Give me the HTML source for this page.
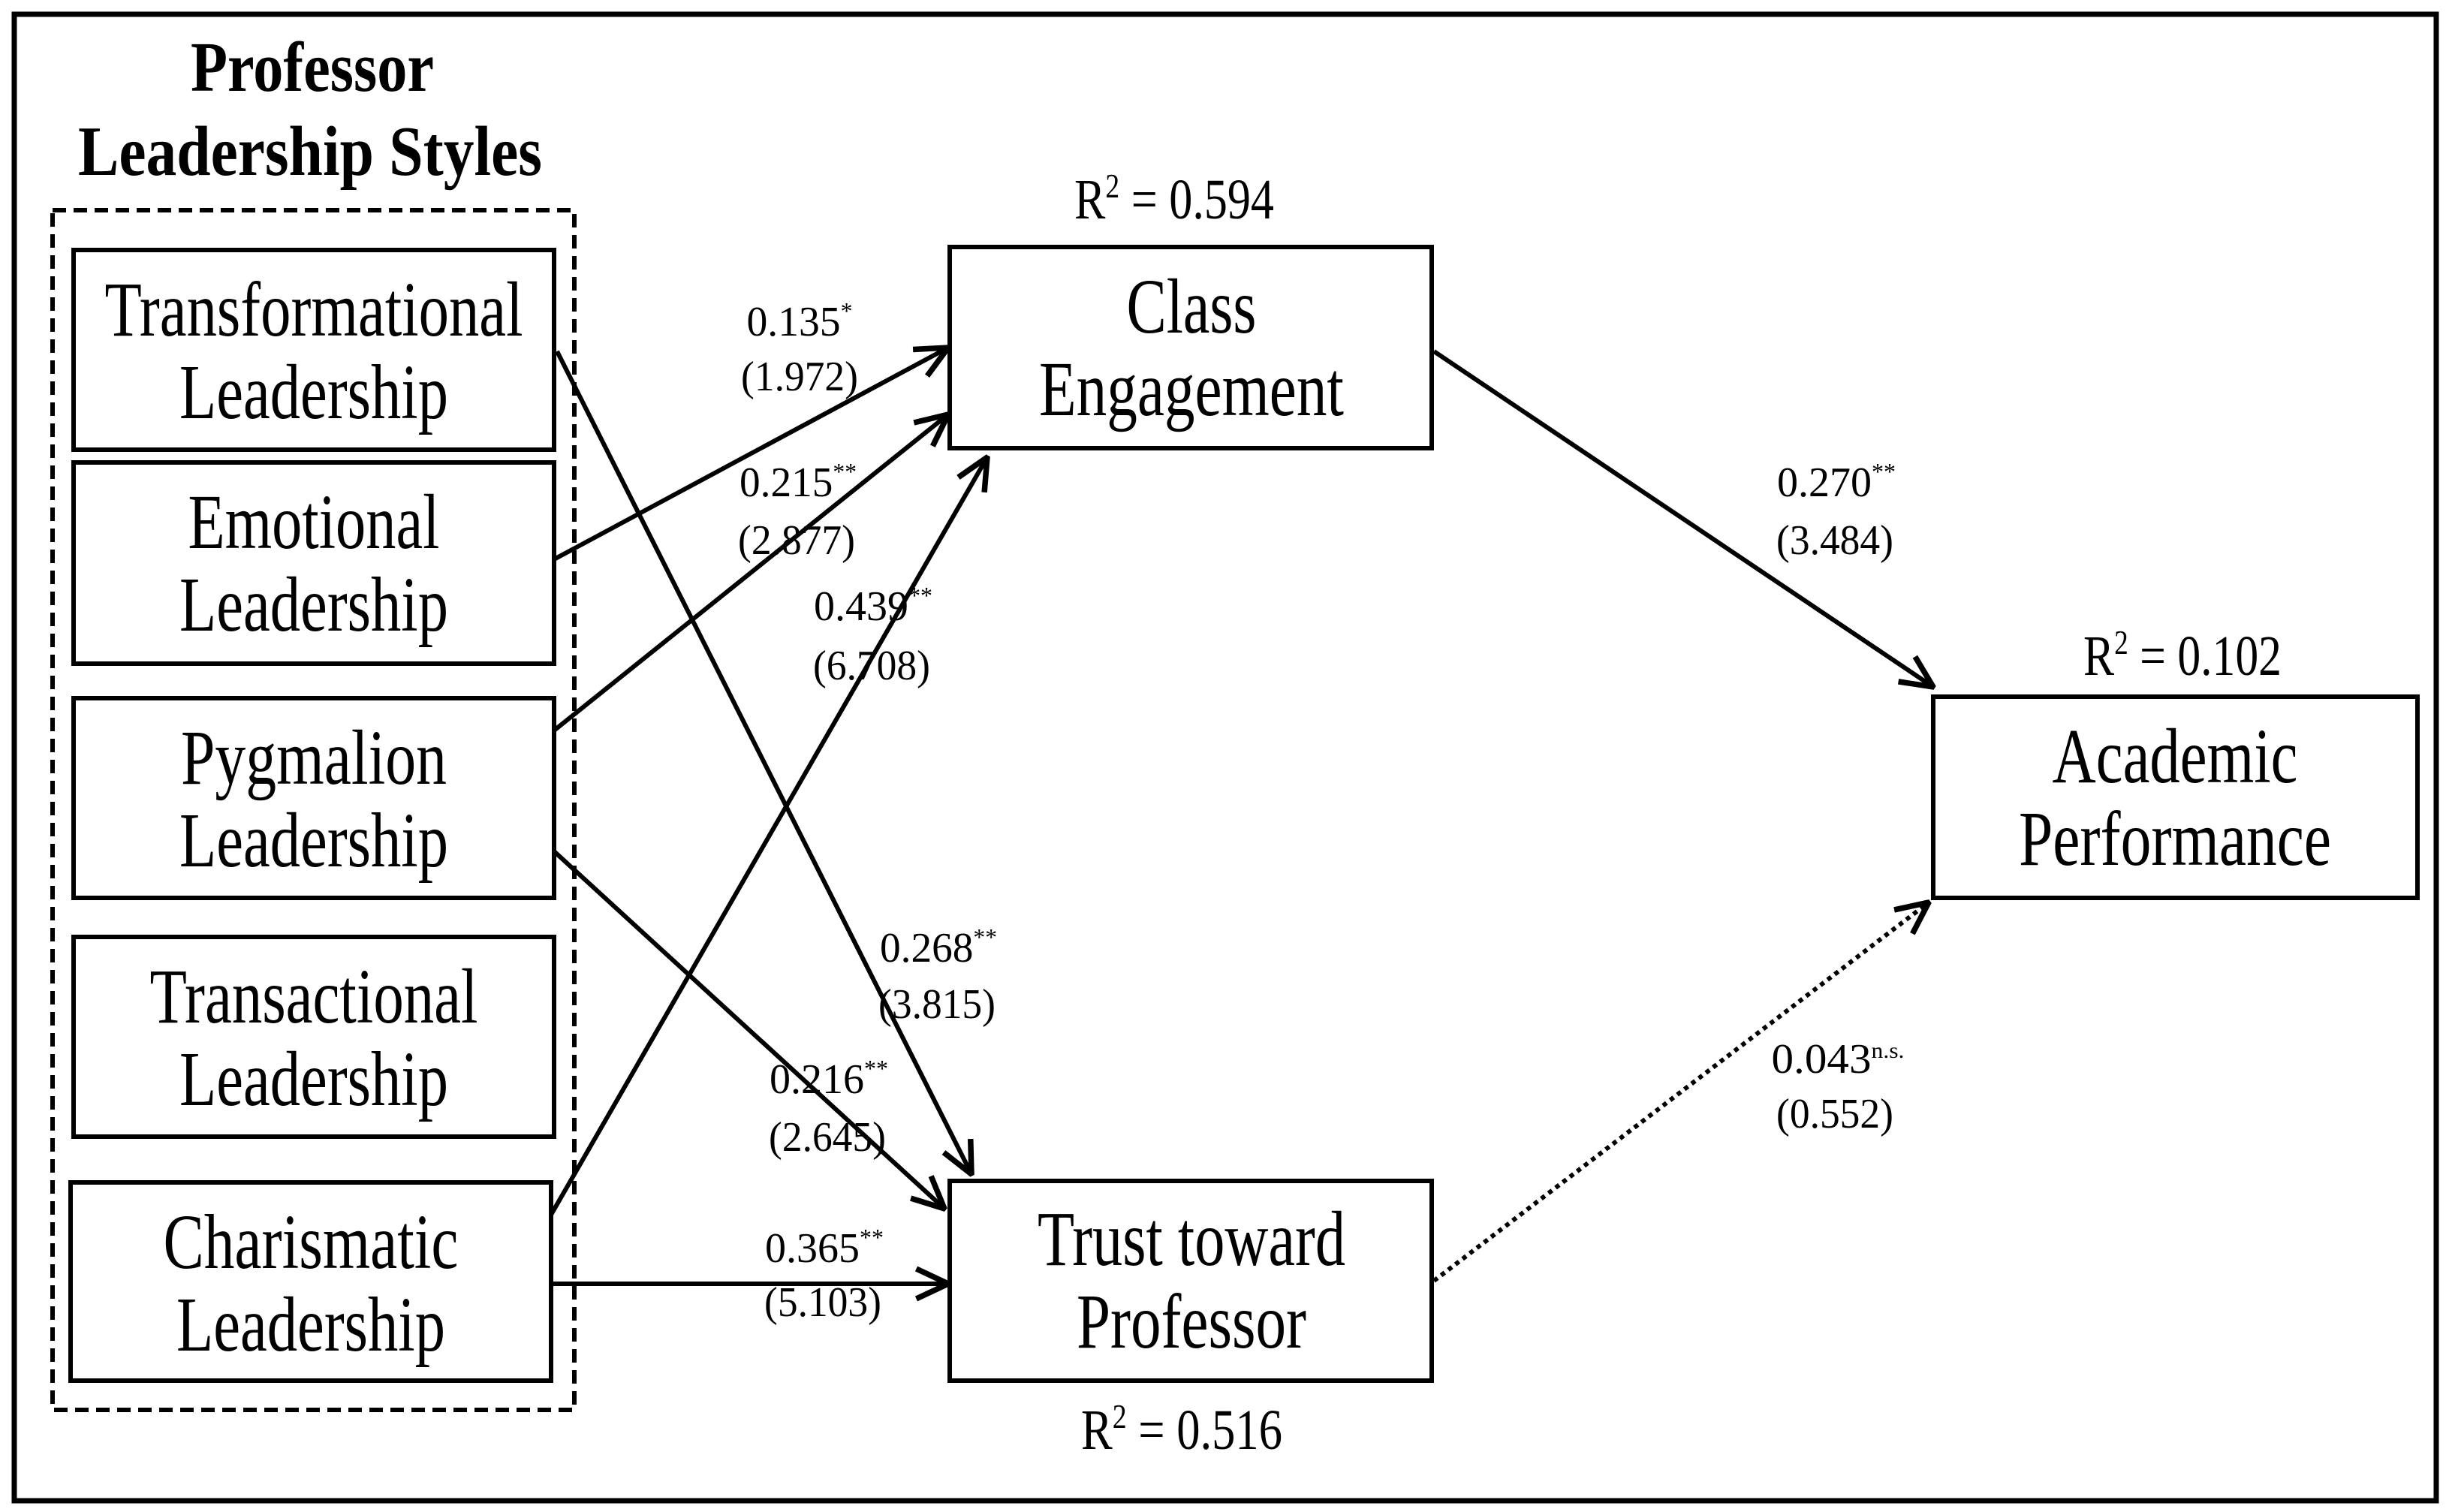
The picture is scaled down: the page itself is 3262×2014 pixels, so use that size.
<!DOCTYPE html>
<html><head><meta charset="utf-8"><style>
html,body{margin:0;padding:0;background:#fff;}
svg{display:block;}
text{font-family:"Liberation Serif",serif;fill:#000;}
</style></head><body>
<svg width="3262" height="2014" viewBox="0 0 3262 2014" xmlns="http://www.w3.org/2000/svg">
<defs>
<marker id="ah" markerUnits="userSpaceOnUse" markerWidth="50" markerHeight="50" viewBox="0 0 40 40" refX="38" refY="20" orient="auto">
<path d="M4,4 L38,20 L4,36" fill="none" stroke="#000" stroke-width="6"/>
</marker>
</defs>
<rect x="0" y="0" width="3262" height="2014" fill="#fff"/>
<rect x="19" y="19" width="3226" height="1980" fill="none" stroke="#000" stroke-width="7"/>

<text x="416" y="121" font-size="94" font-weight="bold" text-anchor="middle" textLength="324" lengthAdjust="spacingAndGlyphs">Professor</text>
<text x="413" y="233" font-size="94" font-weight="bold" text-anchor="middle" textLength="618" lengthAdjust="spacingAndGlyphs">Leadership Styles</text>

<rect x="70" y="280" width="695" height="1598" fill="none" stroke="#000" stroke-width="6" stroke-dasharray="18 10"/>

<g fill="none" stroke="#000" stroke-width="6">
<rect x="98" y="333" width="640" height="266"/>
<rect x="98" y="616" width="640" height="268"/>
<rect x="98" y="930" width="640" height="266"/>
<rect x="98" y="1248" width="640" height="266"/>
<rect x="94" y="1575" width="640" height="264"/>
<rect x="1265" y="329" width="642" height="268"/>
<rect x="1265" y="1573" width="642" height="266"/>
<rect x="2575" y="928" width="645" height="268"/>
</g>

<g font-size="104" text-anchor="middle">
<text x="418" y="447" textLength="557" lengthAdjust="spacingAndGlyphs">Transformational</text>
<text x="418" y="557" textLength="358" lengthAdjust="spacingAndGlyphs">Leadership</text>
<text x="418" y="730" textLength="335" lengthAdjust="spacingAndGlyphs">Emotional</text>
<text x="418" y="840" textLength="358" lengthAdjust="spacingAndGlyphs">Leadership</text>
<text x="418" y="1044" textLength="354" lengthAdjust="spacingAndGlyphs">Pygmalion</text>
<text x="418" y="1154" textLength="358" lengthAdjust="spacingAndGlyphs">Leadership</text>
<text x="418" y="1362" textLength="437" lengthAdjust="spacingAndGlyphs">Transactional</text>
<text x="418" y="1472" textLength="358" lengthAdjust="spacingAndGlyphs">Leadership</text>
<text x="414" y="1689" textLength="393" lengthAdjust="spacingAndGlyphs">Charismatic</text>
<text x="414" y="1799" textLength="358" lengthAdjust="spacingAndGlyphs">Leadership</text>
<text x="1587" y="443" textLength="173" lengthAdjust="spacingAndGlyphs">Class</text>
<text x="1587" y="553" textLength="406" lengthAdjust="spacingAndGlyphs">Engagement</text>
<text x="1587" y="1685" textLength="410" lengthAdjust="spacingAndGlyphs">Trust toward</text>
<text x="1587" y="1795" textLength="306" lengthAdjust="spacingAndGlyphs">Professor</text>
<text x="2897" y="1042" textLength="327" lengthAdjust="spacingAndGlyphs">Academic</text>
<text x="2897" y="1152" textLength="416" lengthAdjust="spacingAndGlyphs">Performance</text>
</g>

<g font-size="76" text-anchor="middle">
<text x="1564" y="291" textLength="266" lengthAdjust="spacingAndGlyphs">R<tspan font-size="46" dy="-28">2</tspan><tspan dy="28"> = 0.594</tspan></text>
<text x="1574" y="1930" textLength="268" lengthAdjust="spacingAndGlyphs">R<tspan font-size="46" dy="-28">2</tspan><tspan dy="28"> = 0.516</tspan></text>
<text x="2907" y="899" textLength="264" lengthAdjust="spacingAndGlyphs">R<tspan font-size="46" dy="-28">2</tspan><tspan dy="28"> = 0.102</tspan></text>
</g>

<g stroke="#000" stroke-width="6" fill="none">
<line x1="738" y1="745" x2="1263" y2="463" marker-end="url(#ah)"/>
<line x1="738" y1="973" x2="1263" y2="552" marker-end="url(#ah)"/>
<line x1="734" y1="1618" x2="1315" y2="609" marker-end="url(#ah)"/>
<line x1="742" y1="468" x2="1294" y2="1564" marker-end="url(#ah)"/>
<line x1="738" y1="1134" x2="1258" y2="1610" marker-end="url(#ah)"/>
<line x1="734" y1="1710" x2="1263" y2="1710" marker-end="url(#ah)"/>
<line x1="1910" y1="468" x2="2575" y2="915" marker-end="url(#ah)"/>
<line x1="1910" y1="1706" x2="2569" y2="1202" stroke-dasharray="6 6" marker-end="url(#ah)"/>
</g>

<g font-size="56" text-anchor="middle">
<text x="1065" y="447" textLength="141" lengthAdjust="spacingAndGlyphs">0.135<tspan font-size="32" dy="-22">*</tspan></text>
<text x="1065" y="520" textLength="156" lengthAdjust="spacingAndGlyphs">(1.972)</text>
<text x="1063" y="661" textLength="156" lengthAdjust="spacingAndGlyphs">0.215<tspan font-size="32" dy="-22">**</tspan></text>
<text x="1061" y="738" textLength="156" lengthAdjust="spacingAndGlyphs">(2.877)</text>
<text x="1163" y="826" textLength="158" lengthAdjust="spacingAndGlyphs">0.439<tspan font-size="32" dy="-22">**</tspan></text>
<text x="1161" y="905" textLength="156" lengthAdjust="spacingAndGlyphs">(6.708)</text>
<text x="1250" y="1281" textLength="156" lengthAdjust="spacingAndGlyphs">0.268<tspan font-size="32" dy="-22">**</tspan></text>
<text x="1248" y="1356" textLength="156" lengthAdjust="spacingAndGlyphs">(3.815)</text>
<text x="1104" y="1456" textLength="158" lengthAdjust="spacingAndGlyphs">0.216<tspan font-size="32" dy="-22">**</tspan></text>
<text x="1102" y="1533" textLength="156" lengthAdjust="spacingAndGlyphs">(2.645)</text>
<text x="1098" y="1681" textLength="158" lengthAdjust="spacingAndGlyphs">0.365<tspan font-size="32" dy="-22">**</tspan></text>
<text x="1096" y="1753" textLength="156" lengthAdjust="spacingAndGlyphs">(5.103)</text>
<text x="2446" y="661" textLength="158" lengthAdjust="spacingAndGlyphs">0.270<tspan font-size="32" dy="-22">**</tspan></text>
<text x="2444" y="738" textLength="156" lengthAdjust="spacingAndGlyphs">(3.484)</text>
<text x="2448" y="1429" textLength="177" lengthAdjust="spacingAndGlyphs">0.043<tspan font-size="30" dy="-20">n.s.</tspan></text>
<text x="2444" y="1502" textLength="156" lengthAdjust="spacingAndGlyphs">(0.552)</text>
</g>
</svg>
</body></html>
